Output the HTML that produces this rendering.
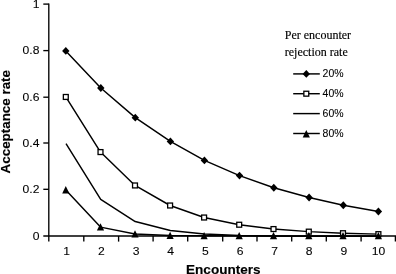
<!DOCTYPE html><html><head><meta charset="utf-8"><style>html,body{margin:0;padding:0;background:#fff}svg{display:block}text{font-family:"Liberation Sans",sans-serif;fill:#000;stroke:#000;stroke-width:0.08}.s{font-family:"Liberation Serif",serif;stroke-width:0.15}.b{font-weight:bold;stroke-width:0.15}</style></head><body>
<svg width="396" height="274" viewBox="0 0 396 274">
<rect width="396" height="274" fill="#fff"/>
<g stroke="#000" stroke-width="1.35" fill="none">
<path d="M48.8 3.42 V241.6"/>
<path d="M43.3 236.0 H396"/>
<path d="M43.3 189.30 H48.8"/>
<path d="M43.3 143.00 H48.8"/>
<path d="M43.3 97.20 H48.8"/>
<path d="M43.3 50.60 H48.8"/>
<path d="M43.3 4.10 H48.8"/>
<path d="M83.80 236.0 V241.6"/>
<path d="M118.60 236.0 V241.6"/>
<path d="M153.10 236.0 V241.6"/>
<path d="M187.70 236.0 V241.6"/>
<path d="M222.70 236.0 V241.6"/>
<path d="M257.00 236.0 V241.6"/>
<path d="M291.70 236.0 V241.6"/>
<path d="M326.30 236.0 V241.6"/>
<path d="M361.10 236.0 V241.6"/>
<path d="M395.40 236.0 V241.6"/>
</g>
<text transform="translate(39.4 239.85) scale(1.19 1)" font-size="10.2" text-anchor="end">0</text>
<text transform="translate(39.4 193.15) scale(1.19 1)" font-size="10.2" text-anchor="end">0.2</text>
<text transform="translate(39.4 146.85) scale(1.19 1)" font-size="10.2" text-anchor="end">0.4</text>
<text transform="translate(39.4 101.05) scale(1.19 1)" font-size="10.2" text-anchor="end">0.6</text>
<text transform="translate(39.4 54.45) scale(1.19 1)" font-size="10.2" text-anchor="end">0.8</text>
<text transform="translate(39.4 7.95) scale(1.19 1)" font-size="10.2" text-anchor="end">1</text>
<text transform="translate(66.50 254.8) scale(1.19 1)" font-size="10.2" text-anchor="middle">1</text>
<text transform="translate(101.40 254.8) scale(1.19 1)" font-size="10.2" text-anchor="middle">2</text>
<text transform="translate(136.05 254.8) scale(1.19 1)" font-size="10.2" text-anchor="middle">3</text>
<text transform="translate(170.60 254.8) scale(1.19 1)" font-size="10.2" text-anchor="middle">4</text>
<text transform="translate(205.40 254.8) scale(1.19 1)" font-size="10.2" text-anchor="middle">5</text>
<text transform="translate(240.05 254.8) scale(1.19 1)" font-size="10.2" text-anchor="middle">6</text>
<text transform="translate(274.55 254.8) scale(1.19 1)" font-size="10.2" text-anchor="middle">7</text>
<text transform="translate(309.20 254.8) scale(1.19 1)" font-size="10.2" text-anchor="middle">8</text>
<text transform="translate(343.90 254.8) scale(1.19 1)" font-size="10.2" text-anchor="middle">9</text>
<text transform="translate(378.45 254.8) scale(1.19 1)" font-size="10.2" text-anchor="middle">10</text>
<text class="b" x="223.3" y="273.8" font-size="13.55" text-anchor="middle">Encounters</text>
<text class="b" transform="translate(10.4 121.7) rotate(-90)" font-size="13.4" text-anchor="middle">Acceptance rate</text>
<polyline fill="none" stroke="#000" stroke-width="1.45" stroke-linejoin="round" points="65.80,50.88 100.80,87.98 135.30,117.67 170.40,141.41 204.40,160.41 239.50,175.61 273.80,187.77 309.10,197.49 343.30,205.27 378.40,211.50"/>
<path d="M62.10 50.88 L65.80 46.98 L69.50 50.88 L65.80 54.78Z" fill="#000"/>
<path d="M97.10 87.98 L100.80 84.08 L104.50 87.98 L100.80 91.88Z" fill="#000"/>
<path d="M131.60 117.67 L135.30 113.77 L139.00 117.67 L135.30 121.57Z" fill="#000"/>
<path d="M166.70 141.41 L170.40 137.51 L174.10 141.41 L170.40 145.31Z" fill="#000"/>
<path d="M200.70 160.41 L204.40 156.51 L208.10 160.41 L204.40 164.31Z" fill="#000"/>
<path d="M235.80 175.61 L239.50 171.71 L243.20 175.61 L239.50 179.51Z" fill="#000"/>
<path d="M270.10 187.77 L273.80 183.87 L277.50 187.77 L273.80 191.67Z" fill="#000"/>
<path d="M305.40 197.49 L309.10 193.59 L312.80 197.49 L309.10 201.39Z" fill="#000"/>
<path d="M339.60 205.27 L343.30 201.37 L347.00 205.27 L343.30 209.17Z" fill="#000"/>
<path d="M374.70 211.50 L378.40 207.60 L382.10 211.50 L378.40 215.40Z" fill="#000"/>
<polyline fill="none" stroke="#000" stroke-width="1.45" stroke-linejoin="round" points="65.80,96.96 100.50,152.07 135.00,185.46 170.10,205.50 204.10,217.52 239.20,224.73 273.50,229.06 308.80,231.65 343.00,233.21 378.40,234.15"/>
<rect x="63.35" y="94.51" width="4.9" height="4.9" fill="#fff" stroke="#000" stroke-width="1.3"/>
<rect x="98.05" y="149.62" width="4.9" height="4.9" fill="#fff" stroke="#000" stroke-width="1.3"/>
<rect x="132.55" y="183.01" width="4.9" height="4.9" fill="#fff" stroke="#000" stroke-width="1.3"/>
<rect x="167.65" y="203.05" width="4.9" height="4.9" fill="#fff" stroke="#000" stroke-width="1.3"/>
<rect x="201.65" y="215.07" width="4.9" height="4.9" fill="#fff" stroke="#000" stroke-width="1.3"/>
<rect x="236.75" y="222.28" width="4.9" height="4.9" fill="#fff" stroke="#000" stroke-width="1.3"/>
<rect x="271.05" y="226.61" width="4.9" height="4.9" fill="#fff" stroke="#000" stroke-width="1.3"/>
<rect x="306.35" y="229.20" width="4.9" height="4.9" fill="#fff" stroke="#000" stroke-width="1.3"/>
<rect x="340.55" y="230.76" width="4.9" height="4.9" fill="#fff" stroke="#000" stroke-width="1.3"/>
<rect x="375.95" y="231.70" width="4.9" height="4.9" fill="#fff" stroke="#000" stroke-width="1.3"/>
<polyline fill="none" stroke="#000" stroke-width="1.45" stroke-linejoin="round" points="66.00,143.64 100.70,199.30 135.20,221.56 170.30,230.46 204.30,234.03 239.40,235.45 273.70,236.02 309.00,236.25 343.20,236.34 378.60,236.38"/>
<polyline fill="none" stroke="#000" stroke-width="1.45" stroke-linejoin="round" points="65.80,190.02 100.50,227.12 135.00,234.04 170.10,235.53 204.10,235.83 239.20,235.89 273.50,235.90 308.80,235.90 343.00,235.90 378.40,235.90"/>
<path d="M62.20 193.42 L65.80 186.12 L69.40 193.42Z" fill="#000"/>
<path d="M96.90 230.52 L100.50 223.22 L104.10 230.52Z" fill="#000"/>
<path d="M131.40 237.44 L135.00 230.14 L138.60 237.44Z" fill="#000"/>
<path d="M166.50 238.93 L170.10 231.63 L173.70 238.93Z" fill="#000"/>
<path d="M200.50 239.23 L204.10 231.93 L207.70 239.23Z" fill="#000"/>
<path d="M235.60 239.29 L239.20 231.99 L242.80 239.29Z" fill="#000"/>
<path d="M269.90 239.30 L273.50 232.00 L277.10 239.30Z" fill="#000"/>
<path d="M305.20 239.30 L308.80 232.00 L312.40 239.30Z" fill="#000"/>
<path d="M339.40 239.30 L343.00 232.00 L346.60 239.30Z" fill="#000"/>
<path d="M374.80 239.30 L378.40 232.00 L382.00 239.30Z" fill="#000"/>
<text class="s" x="284.8" y="39.4" font-size="12">Per encounter</text>
<text class="s" x="284.8" y="55.8" font-size="12">rejection rate</text>
<path d="M293.2 73.9 H319.8" stroke="#000" stroke-width="1.45"/>
<path d="M302.60 73.90 L306.30 70.00 L310.00 73.90 L306.30 77.80Z" fill="#000"/>
<text transform="translate(322.6 77.40) scale(1.05 1)" font-size="10">20%</text>
<path d="M293.2 93.7 H319.8" stroke="#000" stroke-width="1.45"/>
<rect x="303.85" y="91.25" width="4.9" height="4.9" fill="#fff" stroke="#000" stroke-width="1.3"/>
<text transform="translate(322.6 97.20) scale(1.05 1)" font-size="10">40%</text>
<path d="M293.2 113.6 H319.8" stroke="#000" stroke-width="1.45"/>
<text transform="translate(322.6 117.10) scale(1.05 1)" font-size="10">60%</text>
<path d="M293.2 133.5 H319.8" stroke="#000" stroke-width="1.45"/>
<path d="M302.70 137.40 L306.30 130.10 L309.90 137.40Z" fill="#000"/>
<text transform="translate(322.6 137.00) scale(1.05 1)" font-size="10">80%</text>
</svg></body></html>
